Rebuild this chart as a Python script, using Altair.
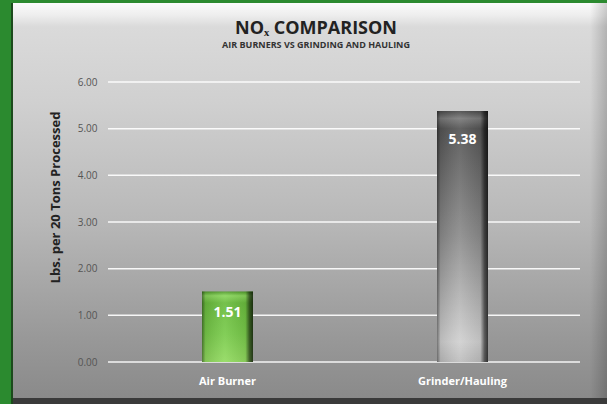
import altair as alt
import pandas as pd

categories = ["Air Burner", "Grinder/Hauling"]
values = [1.51, 5.38]
labels = ["1.51", "5.38"]
y_ticks = [0, 1, 2, 3, 4, 5, 6]

df = pd.DataFrame({"category": categories, "value": values, "label": labels})
grid_df = pd.DataFrame({"value": y_ticks})
one = pd.DataFrame({"k": [0]})

W, H = 470, 280
FONT = "Open Sans"

def grad(stops, horizontal=False):
    if horizontal:
        return alt.Gradient(gradient="linear", x1=0, x2=1, y1=0, y2=0,
                            stops=[alt.GradientStop(offset=o, color=c) for o, c in stops])
    return alt.Gradient(gradient="linear", x1=0, x2=0, y1=0, y2=1,
                        stops=[alt.GradientStop(offset=o, color=c) for o, c in stops])

bg_grad = grad([(0, "#fbfbfb"), (0.03, "#eeeeee"), (0.06, "#dadada"),
                (0.25, "#d0d0d0"), (0.55, "#b8b8b8"), (0.85, "#989898"), (1, "#8a8a8a")])
right_grad = grad([(0, "rgba(0,0,0,0)"), (1, "rgba(0,0,0,0.18)")], horizontal=True)
green_grad = grad([(0, "#4f9a2a"), (0.06, "#8ad65c"), (0.16, "#6abc3e"),
                   (0.6, "#78ca4a"), (1, "#92da60")])
gray_grad = grad([(0, "#4a4a4a"), (0.03, "#7a7a7a"), (0.07, "#555555"),
                  (0.5, "#8c8c8c"), (0.92, "#d0d0d0"), (1, "#bdbdbd")])
edge_grad = grad([(0, "rgba(0,0,0,0.45)"), (0.07, "rgba(0,0,0,0.1)"),
                  (0.45, "rgba(255,255,255,0.08)"), (0.85, "rgba(0,0,0,0.08)"),
                  (0.93, "rgba(0,0,0,0.55)"), (1, "rgba(0,0,0,0.75)")], horizontal=True)

x_enc = alt.X("category:N", sort=categories,
              scale=alt.Scale(domain=categories, paddingInner=0, paddingOuter=0),
              axis=alt.Axis(title=None, labelAngle=0, labelColor="#ffffff", labelFont=FONT,
                            labelFontWeight="bold", labelFontSize=11, labelPadding=13,
                            ticks=False, domain=False, grid=False, zindex=1))
y_scale = alt.Scale(domain=[0, 6], nice=False)
y_axis = alt.Axis(title="Lbs. per 20 Tons Processed", values=y_ticks, format=".2f",
                  labelFont=FONT, labelFontSize=10, labelColor="#555555",
                  labelPadding=13, ticks=False, domain=False, grid=False,
                  titleFont=FONT, titleFontSize=13, titleFontWeight="bold",
                  titleColor="#222222", titleX=-55, titleY=115, titleAngle=270,
                  titleAlign="center", titleBaseline="middle", zindex=1)
y_enc = alt.Y("value:Q", scale=y_scale, axis=y_axis, title="Lbs. per 20 Tons Processed")

bg = alt.Chart(one).mark_rect(fill=bg_grad).encode(
    x=alt.value(-98), x2=alt.value(497), y=alt.value(-79), y2=alt.value(316))
right = alt.Chart(one).mark_rect(fill=right_grad).encode(
    x=alt.value(480), x2=alt.value(497), y=alt.value(-79), y2=alt.value(316))
strip = alt.Chart(one).mark_rect(fill="#3a3a3a").encode(
    x=alt.value(-98), x2=alt.value(497), y=alt.value(316), y2=alt.value(322))
edge = alt.Chart(one).mark_rect(fill="#1c4a1c").encode(
    x=alt.value(-99), x2=alt.value(-97), y=alt.value(-79), y2=alt.value(322))

grid = alt.Chart(grid_df).mark_rule(color="#ffffff", strokeWidth=1.5, opacity=0.9).encode(
    y=y_enc, x=alt.value(-2), x2=alt.value(W))

base = alt.Chart(df)
bar_g = base.mark_bar(size=51, fill=green_grad).encode(x=x_enc, y=y_enc).transform_filter(
    alt.datum.category == "Air Burner")
bar_h = base.mark_bar(size=51, fill=gray_grad).encode(x=x_enc, y=y_enc).transform_filter(
    alt.datum.category == "Grinder/Hauling")
overlay = base.mark_bar(size=51, fill=edge_grad).encode(x=x_enc, y=y_enc)
text_g = base.mark_text(color="#ffffff", font=FONT, fontWeight="bold", fontSize=14,
                        baseline="middle", dy=21).encode(
    x=x_enc, y=y_enc, text="label:N").transform_filter(alt.datum.category == "Air Burner")
text_h = base.mark_text(color="#ffffff", font=FONT, fontWeight="bold", fontSize=14,
                        baseline="middle", dy=29).encode(
    x=x_enc, y=y_enc, text="label:N").transform_filter(alt.datum.category == "Grinder/Hauling")

chart = alt.layer(bg, right, strip, edge, grid, bar_g, bar_h, overlay, text_g, text_h).properties(
    width=W, height=H,
    padding={"left": 110, "top": 82, "right": 27, "bottom": 42},
    autosize=alt.AutoSizeParams(type="none"),
    title=alt.TitleParams(text="NOₓ COMPARISON", subtitle="AIR BURNERS VS GRINDING AND HAULING",
                          anchor="middle", dx=-29, offset=-47, font=FONT, fontSize=18,
                          fontWeight="bold", color="#222222", subtitleFont=FONT,
                          subtitleFontSize=9, subtitleFontWeight="bold",
                          subtitleColor="#333333", subtitlePadding=3, zindex=1),
).configure(background="#2b8a2f").configure_view(stroke=None)

chart.save("out.html", embed_options={"renderer": "svg", "actions": False})
